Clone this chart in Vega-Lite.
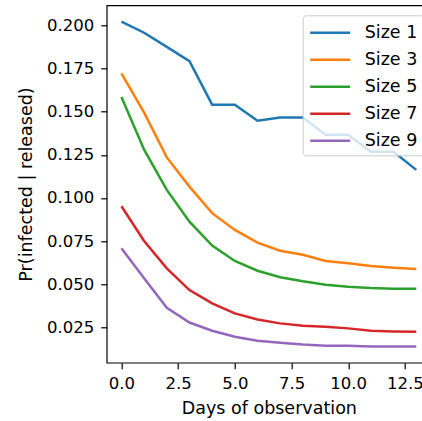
{
  "$schema": "https://vega.github.io/schema/vega-lite/v6.json",
  "autosize": {"type": "none"},
  "padding": {"left": 106.7, "top": 5.3, "right": 0, "bottom": 58.3},
  "width": 324.3,
  "height": 357.4,
  "background": "white",
  "config": {
    "font": "DejaVu Sans",
    "view": {"stroke": "black", "strokeWidth": 1.2},
    "axis": {
      "grid": false,
      "domain": false,
      "tickColor": "black",
      "tickSize": 6,
      "tickWidth": 1.2,
      "labelColor": "black",
      "titleColor": "black",
      "labelFont": "DejaVu Sans",
      "titleFont": "DejaVu Sans",
      "labelFontSize": 16.5,
      "titleFontSize": 17.5,
      "titleFontWeight": "normal"
    }
  },
  "data": {
    "values": [
      {"day": 0, "size": "Size 1", "p": 0.2023},
      {"day": 1, "size": "Size 1", "p": 0.1958},
      {"day": 2, "size": "Size 1", "p": 0.1876},
      {"day": 3, "size": "Size 1", "p": 0.1793},
      {"day": 4, "size": "Size 1", "p": 0.1541},
      {"day": 5, "size": "Size 1", "p": 0.1541},
      {"day": 6, "size": "Size 1", "p": 0.1448},
      {"day": 7, "size": "Size 1", "p": 0.1466},
      {"day": 8, "size": "Size 1", "p": 0.1466},
      {"day": 9, "size": "Size 1", "p": 0.1367},
      {"day": 10, "size": "Size 1", "p": 0.1367},
      {"day": 11, "size": "Size 1", "p": 0.1268},
      {"day": 12, "size": "Size 1", "p": 0.1268},
      {"day": 13, "size": "Size 1", "p": 0.1163},
      {"day": 0, "size": "Size 3", "p": 0.1722},
      {"day": 1, "size": "Size 3", "p": 0.1495},
      {"day": 2, "size": "Size 3", "p": 0.1235},
      {"day": 3, "size": "Size 3", "p": 0.1066},
      {"day": 4, "size": "Size 3", "p": 0.0912},
      {"day": 5, "size": "Size 3", "p": 0.0815},
      {"day": 6, "size": "Size 3", "p": 0.0741},
      {"day": 7, "size": "Size 3", "p": 0.0694},
      {"day": 8, "size": "Size 3", "p": 0.0671},
      {"day": 9, "size": "Size 3", "p": 0.0635},
      {"day": 10, "size": "Size 3", "p": 0.0621},
      {"day": 11, "size": "Size 3", "p": 0.0606},
      {"day": 12, "size": "Size 3", "p": 0.0596},
      {"day": 13, "size": "Size 3", "p": 0.0588},
      {"day": 0, "size": "Size 5", "p": 0.1586},
      {"day": 1, "size": "Size 5", "p": 0.128},
      {"day": 2, "size": "Size 5", "p": 0.1047},
      {"day": 3, "size": "Size 5", "p": 0.0863},
      {"day": 4, "size": "Size 5", "p": 0.0724},
      {"day": 5, "size": "Size 5", "p": 0.0635},
      {"day": 6, "size": "Size 5", "p": 0.0578},
      {"day": 7, "size": "Size 5", "p": 0.054},
      {"day": 8, "size": "Size 5", "p": 0.0517},
      {"day": 9, "size": "Size 5", "p": 0.0497},
      {"day": 10, "size": "Size 5", "p": 0.0485},
      {"day": 11, "size": "Size 5", "p": 0.0478},
      {"day": 12, "size": "Size 5", "p": 0.0474},
      {"day": 13, "size": "Size 5", "p": 0.0474},
      {"day": 0, "size": "Size 7", "p": 0.0952},
      {"day": 1, "size": "Size 7", "p": 0.0751},
      {"day": 2, "size": "Size 7", "p": 0.0592},
      {"day": 3, "size": "Size 7", "p": 0.0466},
      {"day": 4, "size": "Size 7", "p": 0.0389},
      {"day": 5, "size": "Size 7", "p": 0.0331},
      {"day": 6, "size": "Size 7", "p": 0.0296},
      {"day": 7, "size": "Size 7", "p": 0.0273},
      {"day": 8, "size": "Size 7", "p": 0.0259},
      {"day": 9, "size": "Size 7", "p": 0.0253},
      {"day": 10, "size": "Size 7", "p": 0.0244},
      {"day": 11, "size": "Size 7", "p": 0.023},
      {"day": 12, "size": "Size 7", "p": 0.0226},
      {"day": 13, "size": "Size 7", "p": 0.0224},
      {"day": 0, "size": "Size 9", "p": 0.0708},
      {"day": 1, "size": "Size 9", "p": 0.0534},
      {"day": 2, "size": "Size 9", "p": 0.0363},
      {"day": 3, "size": "Size 9", "p": 0.0278},
      {"day": 4, "size": "Size 9", "p": 0.023},
      {"day": 5, "size": "Size 9", "p": 0.0195},
      {"day": 6, "size": "Size 9", "p": 0.0172},
      {"day": 7, "size": "Size 9", "p": 0.016},
      {"day": 8, "size": "Size 9", "p": 0.015},
      {"day": 9, "size": "Size 9", "p": 0.0143},
      {"day": 10, "size": "Size 9", "p": 0.0143},
      {"day": 11, "size": "Size 9", "p": 0.0139},
      {"day": 12, "size": "Size 9", "p": 0.0139},
      {"day": 13, "size": "Size 9", "p": 0.0139}
    ]
  },
  "mark": {"type": "line", "strokeWidth": 2.5},
  "encoding": {
    "x": {
      "field": "day",
      "type": "quantitative",
      "scale": {"domain": [-0.65, 13.65], "nice": false, "zero": false},
      "axis": {
        "title": "Days of observation",
        "values": [0, 2.5, 5, 7.5, 10, 12.5],
        "format": ".1f",
        "labelPadding": 7,
        "titlePadding": 7
      }
    },
    "y": {
      "field": "p",
      "type": "quantitative",
      "scale": {"domain": [0.0045, 0.2117], "nice": false, "zero": false},
      "axis": {
        "title": "Pr(infected | released)",
        "values": [0.025, 0.05, 0.075, 0.1, 0.125, 0.15, 0.175, 0.2],
        "format": ".3f",
        "labelPadding": 7,
        "titlePadding": 11
      }
    },
    "color": {
      "field": "size",
      "type": "nominal",
      "scale": {
        "domain": ["Size 1", "Size 3", "Size 5", "Size 7", "Size 9"],
        "range": ["#1f77b4", "#ff7f0e", "#2ca02c", "#d62728", "#9467bd"]
      },
      "legend": {
        "title": null,
        "orient": "none",
        "legendX": 196,
        "legendY": 10,
        "symbolType": "M-1,0H3",
        "symbolSize": 400,
        "symbolStrokeWidth": 2.5,
        "symbolFillColor": "transparent",
        "labelFontSize": 17.5,
        "labelFont": "DejaVu Sans",
        "labelColor": "black",
        "labelOffset": 33,
        "rowPadding": 7,
        "padding": 6,
        "fillColor": "rgba(255,255,255,0.8)",
        "strokeColor": "#cccccc",
        "cornerRadius": 3
      }
    }
  }
}
